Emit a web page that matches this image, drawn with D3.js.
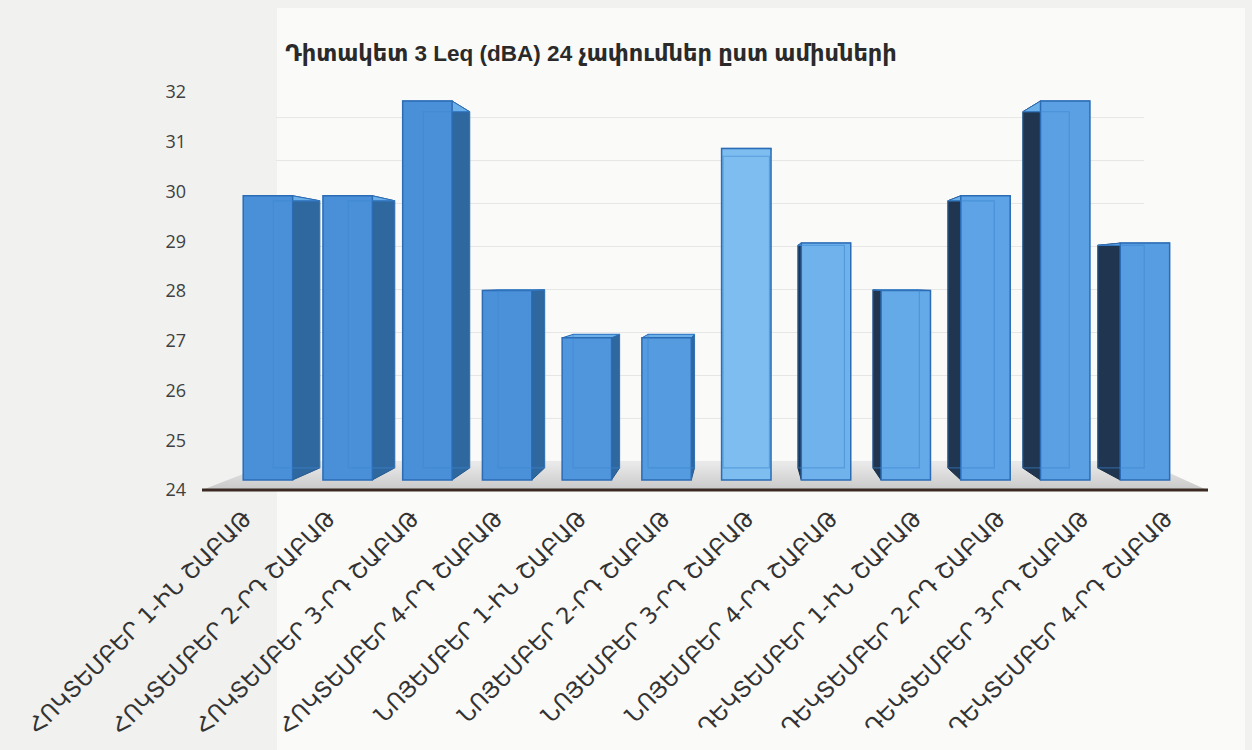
<!DOCTYPE html>
<html><head><meta charset="utf-8">
<script src="https://cdn.jsdelivr.net/npm/d3@7"></script>
<style>body{margin:0;background:#f1f1ef;} svg{display:block}</style>
</head><body><svg id="c" width="1252" height="750"></svg>
<script>
const titleText = "Դիտակետ 3 Leq (dBA) 24 չափումներ ըստ ամիսների";
const categories = [
  "ՀՈԿՏԵՄԲԵՐ 1-ԻՆ ՇԱԲԱԹ", "ՀՈԿՏԵՄԲԵՐ 2-ՐԴ ՇԱԲԱԹ", "ՀՈԿՏԵՄԲԵՐ 3-ՐԴ ՇԱԲԱԹ", "ՀՈԿՏԵՄԲԵՐ 4-ՐԴ ՇԱԲԱԹ",
  "ՆՈՅԵՄԲԵՐ 1-ԻՆ ՇԱԲԱԹ", "ՆՈՅԵՄԲԵՐ 2-ՐԴ ՇԱԲԱԹ", "ՆՈՅԵՄԲԵՐ 3-ՐԴ ՇԱԲԱԹ", "ՆՈՅԵՄԲԵՐ 4-ՐԴ ՇԱԲԱԹ",
  "ԴԵԿՏԵՄԲԵՐ 1-ԻՆ ՇԱԲԱԹ", "ԴԵԿՏԵՄԲԵՐ 2-ՐԴ ՇԱԲԱԹ", "ԴԵԿՏԵՄԲԵՐ 3-ՐԴ ՇԱԲԱԹ", "ԴԵԿՏԵՄԲԵՐ 4-ՐԴ ՇԱԲԱԹ"
];
const values = [30, 30, 32, 28, 27, 27, 31, 29, 28, 30, 32, 29];
const yTicks = [24, 25, 26, 27, 28, 29, 30, 31, 32];

const svg = d3.select("#c");
// background panel
svg.append("rect").attr("x", 277).attr("y", 8).attr("width", 968).attr("height", 742).attr("fill", "#fafaf9");

// perspective setup
const V = {x: 745, y: 280};
const S_AXIS = 1, S_FRONT = 0.952, S_BACK = 0.895, S_WALL = 0.864;
const proj = (px, py, s) => [V.x + (px - V.x) * s, V.y + (py - V.y) * s];

const x = d3.scaleBand().domain(categories).range([202, 1207]).padding(0);
const y = d3.scaleLinear().domain([24, 32]).range([490, 92]);
const hw = x.bandwidth() * 0.31;

// back wall gridlines
const gridG = svg.append("g");
yTicks.forEach(t => {
  const a = proj(202, y(t), S_WALL), b = proj(1207, y(t), S_WALL);
  gridG.append("line").attr("x1", a[0]).attr("y1", a[1]).attr("x2", b[0]).attr("y2", b[1])
    .attr("stroke", "#e6e6e6").attr("stroke-width", 1);
});

// floor
const defs = svg.append("defs");
const fg = defs.append("linearGradient").attr("id", "floorG").attr("x1", 0).attr("y1", 1).attr("x2", 0).attr("y2", 0);
fg.append("stop").attr("offset", "0%").attr("stop-color", "#c9c9c9");
fg.append("stop").attr("offset", "100%").attr("stop-color", "#ebebeb");
const y0 = y(24);
const floorPts = [proj(202, y0, S_AXIS), proj(1207, y0, S_AXIS), proj(1207, y0, S_WALL), proj(202, y0, S_WALL)];
svg.append("polygon").attr("points", floorPts.map(p => p.join(",")).join(" ")).attr("fill", "url(#floorG)");

// bars
const poly = pts => pts.map(p => p.join(",")).join(" ");
const barsG = svg.append("g");
const frontColor = d3.scaleLinear().domain([0, 120, 450]).range(["#7dbdf0", "#5ea5e6", "#4a90d8"]).clamp(true);
categories.forEach((cat, i) => {
  const v = values[i];
  const c = x(cat) + x.bandwidth() / 2;
  const xl = c - hw, xr = c + hw, yt = y(v), yb = y(24);
  const F = {tl: proj(xl, yt, S_FRONT), tr: proj(xr, yt, S_FRONT), br: proj(xr, yb, S_FRONT), bl: proj(xl, yb, S_FRONT)};
  const B = {tl: proj(xl, yt, S_BACK), tr: proj(xr, yt, S_BACK), br: proj(xr, yb, S_BACK), bl: proj(xl, yb, S_BACK)};
  const fc = (F.tl[0] + F.tr[0]) / 2;
  const g = barsG.append("g");
  if (fc < V.x) {
    g.append("polygon").attr("points", poly([F.tr, B.tr, B.br, F.br]))
      .attr("fill", "#2f679f").attr("stroke", "#275a8c").attr("stroke-width", 1);
  } else {
    g.append("polygon").attr("points", poly([F.tl, B.tl, B.bl, F.bl]))
      .attr("fill", "#1f3550").attr("stroke", "#1b2f47").attr("stroke-width", 1);
  }
  g.append("polygon").attr("points", poly([F.tl, F.tr, B.tr, B.tl]))
    .attr("fill", "#6cb0ea").attr("stroke", "#2b6cb5").attr("stroke-width", 1);
  const dist = Math.abs(fc - V.x);
  g.append("polygon").attr("points", poly([F.tl, F.tr, F.br, F.bl]))
    .attr("fill", fc > V.x - 30 ? frontColor(dist * 0.6) : frontColor(dist + 200))
    .attr("stroke", "#2b6cb5").attr("stroke-width", 1.5);
  // see-through back edges
  g.append("polygon").attr("points", poly([B.tl, B.tr, B.br, B.bl]))
    .attr("fill", "none").attr("stroke", "#3d86d2").attr("stroke-opacity", 0.55).attr("stroke-width", 1.2);
});

// axis line
svg.append("line").attr("x1", 202).attr("y1", y(24)).attr("x2", 1208).attr("y2", y(24))
  .attr("stroke", "#3a2a22").attr("stroke-width", 3);

// y tick labels
const yAxisG = svg.append("g").attr("transform", "translate(186,0)")
  .call(d3.axisLeft(y).tickValues(yTicks).tickSize(0).tickPadding(0).tickFormat(d3.format("d")));
yAxisG.select(".domain").remove();
yAxisG.selectAll("text").attr("font-family", "'Open Sans', 'Liberation Sans', sans-serif")
  .attr("font-size", 18).attr("fill", "#404040");

// x labels
const labelG = svg.append("g");
const labels = labelG.selectAll("text").data(categories).join("text")
  .attr("transform", d => `translate(${x(d) + x.bandwidth() / 2 + 9},520) rotate(-45)`)
  .attr("text-anchor", "end")
  .attr("font-family", "'DejaVu Sans', sans-serif")
  .attr("font-size", 16)
  .attr("fill", "#333")
  .text(d => d);
const L = labels.nodes()[3].getComputedTextLength();
labels.attr("font-size", 16 * 305 / L);

// title
const t = svg.append("text").attr("x", 591).attr("y", 61).attr("text-anchor", "middle")
  .attr("font-family", "'Liberation Sans', 'DejaVu Sans', sans-serif")
  .attr("font-weight", "bold")
  .attr("font-size", 22).attr("fill", "#2a2a2a").text(titleText);
const tw = t.node().getComputedTextLength();
t.attr("font-size", 22 * 612 / tw);
</script></body></html>
